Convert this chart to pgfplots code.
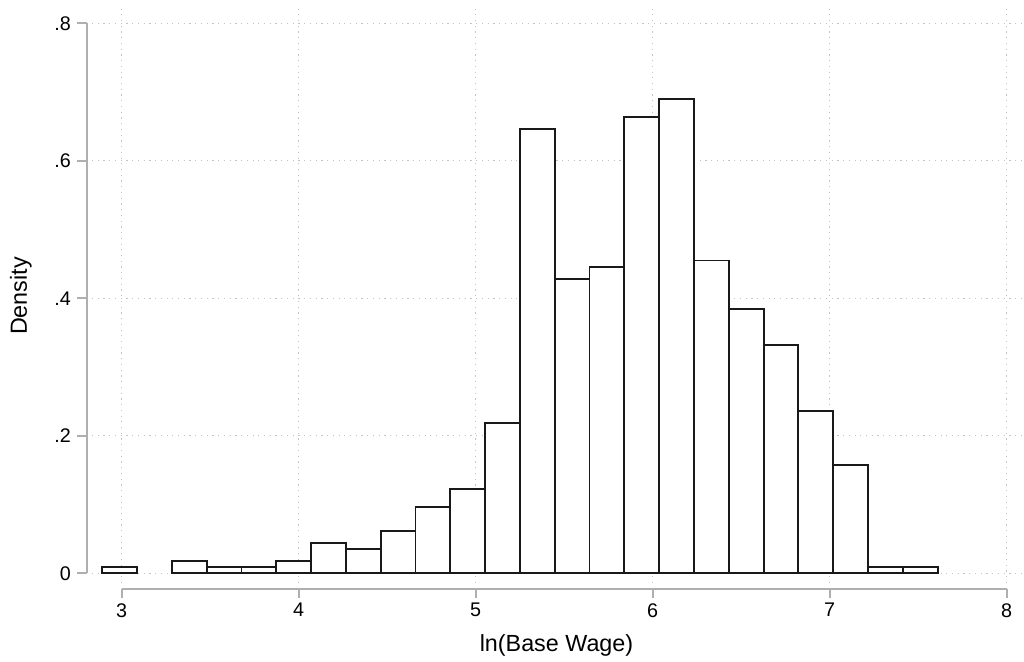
\documentclass[border=0pt]{standalone}
\usepackage{fontspec}
\setmainfont{Liberation Sans}
\usepackage{pgfplots}
\pgfplotsset{compat=1.18}
\definecolor{axgray}{RGB}{175,175,175}
\definecolor{gridgray}{RGB}{195,195,195}
\begin{document}
\begin{tikzpicture}
\path[use as bounding box] (-69pt,-58.5pt) rectangle (699pt,437.25pt);
\begin{axis}[
 at={(0pt,0pt)}, anchor=south west,
 scale only axis, width=696.75pt, height=430.5pt,
 xmin=2.832, xmax=8.081, ymin=-0.0141, ymax=0.8208,
 clip=false,
 axis line style={draw=none},
 major tick length=0pt,
 xtick={3,4,5,6,7,8}, xticklabels={3,4,5,6,7,8},
 ytick={0,0.2,0.4,0.6,0.8}, yticklabels={0,.2,.4,.6,.8},
 grid=major,
 major grid style={gridgray, line width=0.9pt, dash pattern=on 0.9pt off 3.4pt},
 tick label style={font=\fontsize{14.8}{17}\selectfont, inner sep=0pt},
 xticklabel style={anchor=north, yshift=-15pt},
 yticklabel style={anchor=east, xshift=-15.75pt},
 xlabel={ln(Base Wage)}, ylabel={Density},
 label style={font=\fontsize{17.5}{21}\selectfont},
 xlabel style={at={(axis description cs:0.5,-0.1185)}, anchor=base},
 ylabel style={at={(axis description cs:-0.07,0.5)}, anchor=base},
]
% bin 0 (isolated)
\addplot[ybar interval, fill=white, draw=black!90, line width=1.4pt] coordinates {
(2.8900,0.0092) (3.0867,0.0092)
};
% bins 2..23
\addplot[ybar interval, fill=white, draw=black!90, line width=1.4pt] coordinates {
(3.2833,0.018)
(3.4800,0.0092)
(3.6767,0.0092)
(3.8733,0.018)
(4.0700,0.044)
(4.2667,0.035)
(4.4633,0.062)
(4.6600,0.097)
(4.8567,0.123)
(5.0533,0.219)
(5.2500,0.646)
(5.4467,0.428)
(5.6433,0.446)
(5.8400,0.664)
(6.0367,0.690)
(6.2333,0.455)
(6.4300,0.384)
(6.6267,0.332)
(6.8233,0.236)
(7.0200,0.158)
(7.2167,0.0092)
(7.4133,0.0092)
(7.6100,0.0092)
};
% axis lines and ticks
\draw[axgray, line width=1.5pt] ([xshift=-4pt]axis cs:2.832,0) -- ([xshift=-4pt]axis cs:2.832,0.8);
\pgfplotsinvokeforeach{0,0.2,0.4,0.6,0.8}{
  \draw[axgray, line width=1.5pt] ([xshift=-4pt]axis cs:2.832,#1) -- ([xshift=-11.5pt]axis cs:2.832,#1);
}
\draw[axgray, line width=1.5pt] ([yshift=-4.5pt]axis cs:3,-0.0141) -- ([yshift=-4.5pt]axis cs:8,-0.0141);
\pgfplotsinvokeforeach{3,4,5,6,7,8}{
  \draw[axgray, line width=1.5pt] ([yshift=-4.5pt]axis cs:#1,-0.0141) -- ([yshift=-11.25pt]axis cs:#1,-0.0141);
}
\end{axis}
\end{tikzpicture}
\end{document}
